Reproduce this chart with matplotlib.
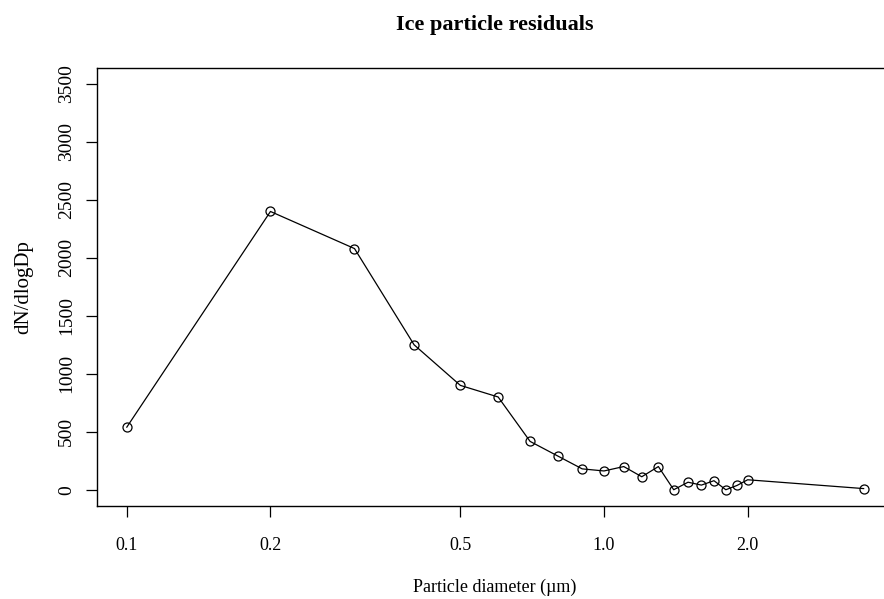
import numpy as np
import matplotlib
matplotlib.use("Agg")
import matplotlib.pyplot as plt
from matplotlib.ticker import FixedLocator, NullLocator

# data
diameter = [0.1, 0.2, 0.3, 0.4, 0.5, 0.6, 0.7, 0.8, 0.9, 1.0,
            1.1, 1.2, 1.3, 1.4, 1.5, 1.6, 1.7, 1.8, 1.9, 2.0, 3.5]
dn_dlogdp = [540, 2400, 2080, 1250, 900, 800, 417, 291, 180, 162,
             200, 112, 200, 0, 65, 40, 78, 0, 37, 86, 10]
x_ticks = [0.1, 0.2, 0.5, 1.0, 2.0]
x_ticklabels = ["0.1", "0.2", "0.5", "1.0", "2.0"]
y_ticks = [0, 500, 1000, 1500, 2000, 2500, 3000, 3500]

plt.rcParams['font.family'] = ['Liberation Serif', 'DejaVu Serif']

fig = plt.figure(figsize=(8.84, 5.99), dpi=100)
ax = fig.add_axes([0.1100, 0.1553, 0.9000, 0.7317])

ax.plot(diameter, dn_dlogdp, color="black", lw=0.9,
        marker="o", markersize=6.5, markerfacecolor="none",
        markeredgecolor="black", markeredgewidth=0.9)

ax.set_xscale("log")
ax.set_xlim(0.0867, 4.03)
ax.set_ylim(-140, 3640)

ax.xaxis.set_major_locator(FixedLocator(x_ticks))
ax.xaxis.set_minor_locator(NullLocator())
ax.set_xticklabels(x_ticklabels)
ax.set_yticks(y_ticks)
ax.set_yticklabels([str(v) for v in y_ticks], rotation=90, va="center")

ax.tick_params(axis="both", length=8, width=0.9)
ax.tick_params(axis="x", labelsize=13, pad=14)
ax.tick_params(axis="y", labelsize=14, pad=8)
for s in ax.spines.values():
    s.set_linewidth(1.0)

ax.set_title("Ice particle residuals", fontsize=16, fontweight="bold", pad=27)
ax.set_xlabel("Particle diameter (µm)", fontsize=13, labelpad=18)
ax.set_ylabel("dN/dlogDp", fontsize=15, labelpad=18)

fig.savefig("out.png", dpi=100)
